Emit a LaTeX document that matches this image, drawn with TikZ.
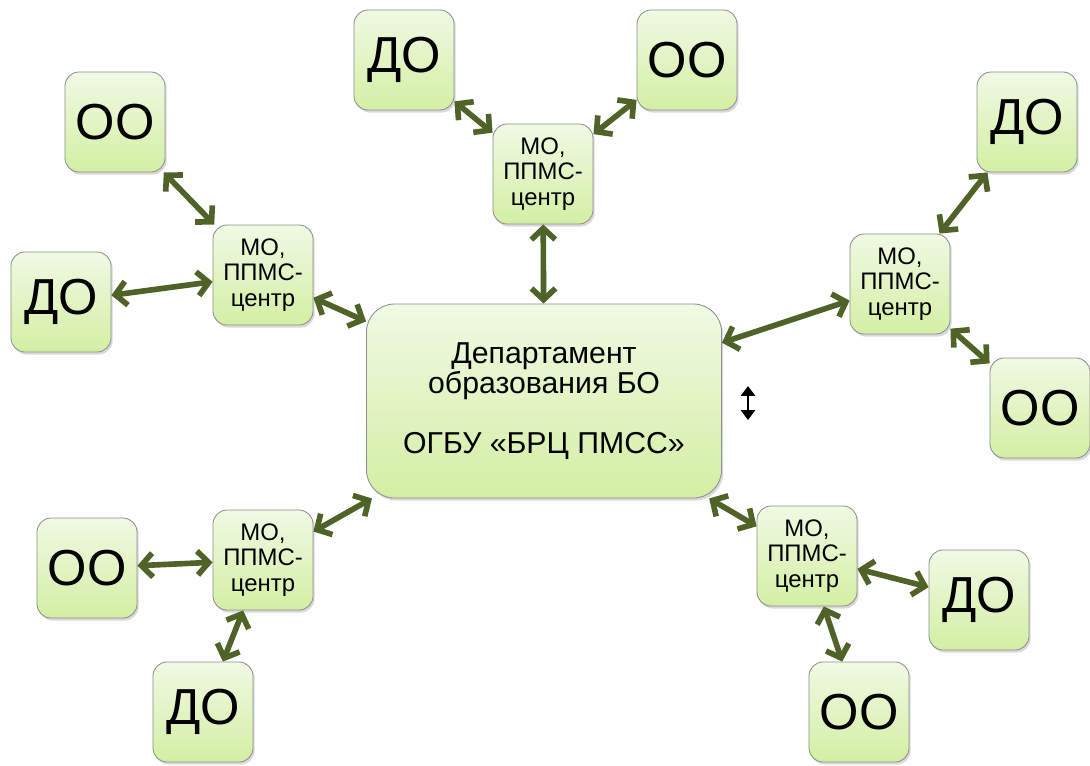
\documentclass[tikz,border=0pt]{standalone}
\usepackage{fontspec}
\setmainfont{Liberation Sans}
\usetikzlibrary{arrows.meta,shadows}

\definecolor{olivearrow}{HTML}{4F6228}
\definecolor{boxtop}{HTML}{F1F9E4}
\definecolor{boxbottom}{HTML}{D3EFA3}
\definecolor{boxline}{HTML}{8E8E8E}

\begin{document}
\begin{tikzpicture}[x=0.025cm, y=-0.025cm,
        box/.style={draw=boxline, line width=0.6pt, rounded corners=10pt,
            top color=boxtop, bottom color=boxbottom,
            drop shadow={shadow xshift=1.2pt, shadow yshift=-1.8pt, opacity=0.3},
            minimum width=2.5cm, minimum height=2.5cm, inner sep=0pt, align=center},
        small/.style={box, font=\fontsize{36}{36}\selectfont},
        mo/.style={box, font=\fontsize{17}{18}\selectfont},
        dep/.style={box, rounded corners=20pt, minimum width=8.875cm, minimum height=4.85cm,
            font=\fontsize{21.5}{21.5}\selectfont},
        link/.style={draw=olivearrow, line width=4pt,
            {Straight Barb[length=8pt,width=17pt]}-{Straight Barb[length=8pt,width=17pt]}}]
        \useasboundingbox (0,0) rectangle (1090,765);

        % the central box
        \node[dep] (dept) at (544,401) {Департамент\\образования БО\\[21.5pt]ОГБУ «БРЦ ПМСС»};

        % the centres around it
        \node[mo] (motop) at (543,174) {МО,\\ППМС-\\центр};
        \node[mo] (moleft) at (263,275) {МО,\\ППМС-\\центр};
        \node[mo] (moright) at (900,284) {МО,\\ППМС-\\центр};
        \node[mo] (mobl) at (263,560) {МО,\\ППМС-\\центр};
        \node[mo] (mobr) at (807,556) {МО,\\ППМС-\\центр};

        % the outer boxes
        \node[small] (dotop) at (404,60) {ДО};
        \node[small] (ootop) at (687,60) {ОО};
        \node[small] (ooleft) at (115,122) {ОО};
        \node[small] (doleft) at (61,302) {ДО};
        \node[small] (doright) at (1027,122) {ДО};
        \node[small] (ooright) at (1040,408) {ОО};
        \node[small] (oobl) at (87,568) {ОО};
        \node[small] (dobl) at (203,712) {ДО};
        \node[small] (dobr) at (979,600) {ДО};
        \node[small] (oobr) at (859,712) {ОО};

        % draw the arrows
        \draw[link] (motop) -- (dept);
        \draw[link] (moleft) -- (dept);
        \draw[link] (moright) -- (dept);
        \draw[link] (mobl) -- (dept);
        \draw[link] (mobr) -- (dept);
        \draw[link] (dotop) -- (motop);
        \draw[link] (ootop) -- (motop);
        \draw[link] (ooleft) -- (moleft);
        \draw[link] (doleft) -- (moleft);
        \draw[link] (doright) -- (moright);
        \draw[link] (ooright) -- (moright);
        \draw[link] (oobl) -- (mobl);
        \draw[link] (dobl) -- (mobl);
        \draw[link] (dobr) -- (mobr);
        \draw[link] (oobr) -- (mobr);

        % the small black arrow
        \coordinate (upend) at (748,386);
        \coordinate (downend) at (748,420);
        \draw[line width=1.6pt, {Triangle[length=7pt,width=10pt]}-{Triangle[length=7pt,width=10pt]}] (upend) -- (downend);

    \end{tikzpicture}
\end{document}
